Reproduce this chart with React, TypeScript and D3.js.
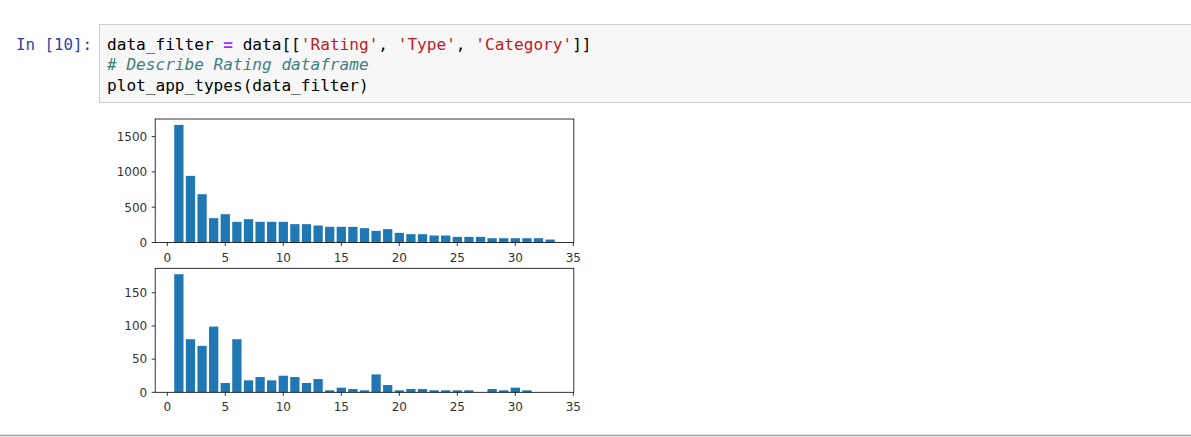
import React from "react";
import * as d3 from "d3";

const categories: number[] = Array.from({ length: 33 }, (_, i) => i + 1);
const topValues: number[] = [
  1666, 944, 684, 345, 401, 293, 330, 293, 293, 293, 260, 260, 241, 222, 222,
  222, 203, 165, 189, 137, 118, 118, 99, 99, 80, 80, 80, 61, 61, 61, 61, 61, 42,
];
const bottomValues: number[] = [
  178, 80, 70, 99, 14, 80, 18, 23, 18, 25, 23, 14, 20, 3, 7,
  5, 3, 27, 11, 3, 5, 5, 3, 3, 3, 3, 0, 5, 3, 7, 3, 0, 0,
];
const xTicks: number[] = [0, 5, 10, 15, 20, 25, 30, 35];
const topYTicks: number[] = [0, 500, 1000, 1500];
const bottomYTicks: number[] = [0, 50, 100, 150];

const BAR_COLOR = "#1f77b4";
const TICK_FONT = "'DejaVu Sans', sans-serif";
const CODE_FONT = "'DejaVu Sans Mono', 'Liberation Mono', monospace";

const x = d3.scaleLinear().domain([-1.04, 35.04]).range([155.2, 573.8]);

function Panel({ values, yTicks, top, bottom }: { values: number[]; yTicks: number[]; top: number; bottom: number }) {
  const maxV = d3.max(values) as number;
  const y = d3.scaleLinear().domain([0, maxV * 1.05]).range([bottom, top]);
  const bw = x(0.8) - x(0);
  const [x0, x1] = x.range();
  return (
    <g>
      {categories.map((c, i) => (
        <rect key={c} x={x(c - 0.4)} y={y(values[i])} width={bw} height={y(0) - y(values[i])} fill={BAR_COLOR} />
      ))}
      <rect x={x0} y={top} width={x1 - x0} height={bottom - top} fill="none" stroke="#000" strokeWidth={0.8} />
      {xTicks.map((t) => (
        <g key={t}>
          <line x1={x(t)} x2={x(t)} y1={bottom} y2={bottom + 3.5} stroke="#000" strokeWidth={0.8} />
          <text x={x(t)} y={bottom + 19} textAnchor="middle" fontFamily={TICK_FONT} fontSize={12} fill="#333">
            {t}
          </text>
        </g>
      ))}
      {yTicks.map((t) => (
        <g key={t}>
          <line x1={x0 - 3.5} x2={x0} y1={y(t)} y2={y(t)} stroke="#000" strokeWidth={0.8} />
          <text x={x0 - 8} y={y(t)} dy="0.36em" textAnchor="end" fontFamily={TICK_FONT} fontSize={12} fill="#333">
            {t}
          </text>
        </g>
      ))}
    </g>
  );
}

export default function App() {
  return (
    <div style={{ position: "absolute", left: 0, top: 0 }}>
      <svg width={1191} height={437} style={{ display: "block", background: "#fff" }}>
        <text x={16} y={50} fontFamily={CODE_FONT} fontSize={15.8} fill="#303F9F">
          In [10]:
        </text>
        <rect x={99.5} y={24.5} width={1200} height={78} fill="#f7f7f7" stroke="#cfcfcf" strokeWidth={1} />
        <text x={107} y={49.5} fontFamily={CODE_FONT} fontSize={16.1} fill="#000" xmlSpace="preserve">
          <tspan>data_filter </tspan>
          <tspan fill="#AA22FF" fontWeight="bold">=</tspan>
          <tspan> data[[</tspan>
          <tspan fill="#BA2121">'Rating'</tspan>
          <tspan>, </tspan>
          <tspan fill="#BA2121">'Type'</tspan>
          <tspan>, </tspan>
          <tspan fill="#BA2121">'Category'</tspan>
          <tspan>]]</tspan>
        </text>
        <text x={107} y={70.2} fontFamily={CODE_FONT} fontSize={16.1} fill="#408080" fontStyle="italic">
          # Describe Rating dataframe
        </text>
        <text x={107} y={90.9} fontFamily={CODE_FONT} fontSize={16.1} fill="#000">
          plot_app_types(data_filter)
        </text>
        <Panel values={topValues} yTicks={topYTicks} top={119} bottom={242.5} />
        <Panel values={bottomValues} yTicks={bottomYTicks} top={268.3} bottom={392.3} />
        <line x1={0} x2={1191} y1={435.5} y2={435.5} stroke="#9e9e9e" strokeWidth={1.5} />
      </svg>
    </div>
  );
}
